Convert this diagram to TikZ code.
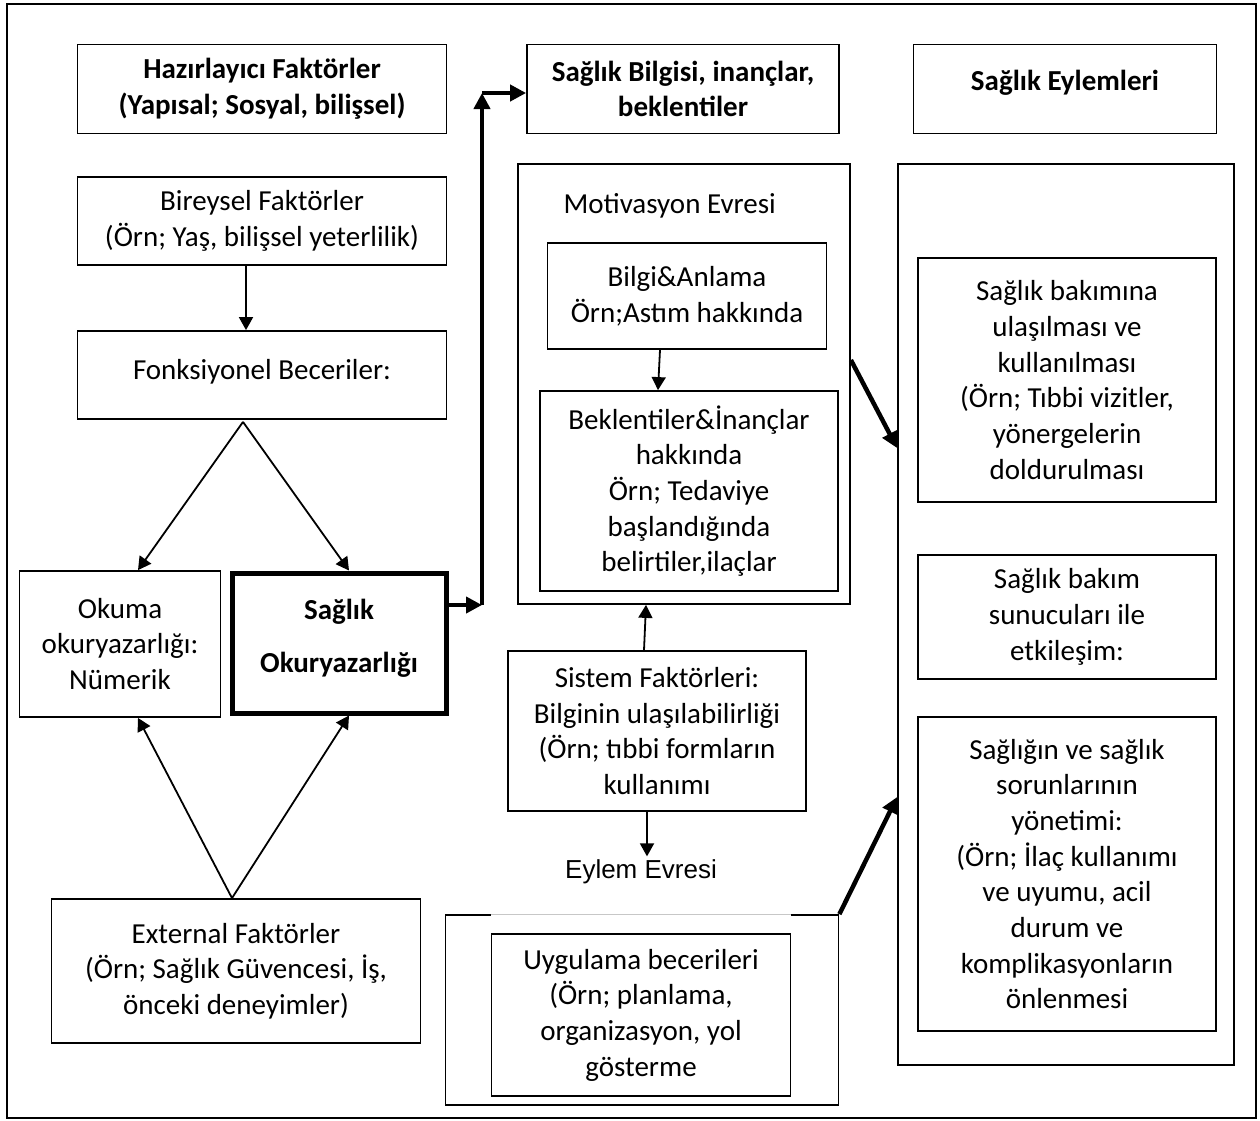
\documentclass[tikz,border=0pt]{standalone}
\usepackage{fontspec}
\setmainfont{Carlito}
\newfontfamily\arialfont{Liberation Sans}
\usetikzlibrary{arrows.meta,calc}

\begin{document}
\begin{tikzpicture}[x=1pt, y=-1pt,
  font=\fontsize{29}{35.7}\selectfont,
  box/.style={draw, line width=1.8pt, align=center, inner sep=0pt},
  headbox/.style={box, font=\fontsize{29}{35.7}\selectfont\bfseries},
  thinarr/.style={line width=1.8pt, -{Triangle[length=13pt,width=14pt]}},
  boldarr/.style={line width=4.5pt, -{Triangle[length=16pt,width=16pt]}}]

\useasboundingbox (0,0) rectangle (1260,1120);
\draw[line width=1.8pt] (7,4) rectangle (1256,1118);

% headings
\node[headbox, minimum width=369pt, minimum height=89pt] (haz) at (262,89) {Hazırlayıcı Faktörler\\(Yapısal; Sosyal, bilişsel)};
\node[headbox, minimum width=312pt, minimum height=89pt] (bilgi) at (683,89) {Sağlık Bilgisi, inançlar,\\beklentiler};
\node[headbox, minimum width=303pt, minimum height=89pt] (eylem) at (1065,89) {Sağlık Eylemleri\\[-18pt]\mbox{}};

% left column
\node[box, minimum width=369pt, minimum height=88pt] (birey) at (262,221) {Bireysel Faktörler\\(Örn; Yaş, bilişsel yeterlilik)};
\node[box, minimum width=369pt, minimum height=88pt] (fonk) at (262,375) {Fonksiyonel Beceriler:\\[-24pt]\mbox{}};
\node[box, minimum width=201pt, minimum height=146pt] (okuma) at (120,644) {Okuma\\okuryazarlığı:\\Nümerik};
\node[headbox, line width=5pt, minimum width=214pt, minimum height=140pt] (saglikok) at (339,643) {Sağlık\\[17pt]Okuryazarlığı\\[-22pt]\mbox{}};
\node[box, minimum width=369pt, minimum height=144pt] (external) at (236,971) {External Faktörler\\(Örn; Sağlık Güvencesi, İş,\\önceki deneyimler)};

% middle column
\node[box, minimum width=332pt, minimum height=440pt] (motiv) at (684,384) {};
\node[anchor=base west] (motivlbl) at (560,213) {Motivasyon Evresi};
\node[box, minimum width=279pt, minimum height=106pt] (bilganl) at (687,296) {Bilgi\&Anlama\\Örn;Astım hakkında};
\node[box, minimum width=298pt, minimum height=200pt] (bekl) at (689,491) {Beklentiler\&İnançlar\\hakkında\\Örn; Tedaviye\\başlandığında\\belirtiler,ilaçlar};
\node[box, minimum width=298pt, minimum height=160pt] (sistem) at (657,731) {Sistem Faktörleri:\\Bilginin ulaşılabilirliği\\(Örn; tıbbi formların\\kullanımı};
\node[font=\arialfont\fontsize{26}{30}\selectfont] (eylemev) at (641,872) {Eylem Evresi};
\node[box, minimum width=393pt, minimum height=190pt] (uygouter) at (642,1010) {};
\node[box, minimum width=299pt, minimum height=162pt] (uyg) at (641,1015) {Uygulama becerileri\\(Örn; planlama,\\organizasyon, yol\\gösterme};
\draw[white, line width=3pt] (uyg.west |- uygouter.north) -- (uyg.east |- uygouter.north);
\draw[black!22, line width=0.8pt] (uyg.west |- uygouter.north) -- (uyg.east |- uygouter.north);

% right column
\node[box, minimum width=336pt, minimum height=901pt] (eyl) at (1066,614.5) {};
\node[box, minimum width=298pt, minimum height=244pt] (r1) at (1067,380) {Sağlık bakımına\\ulaşılması ve\\kullanılması\\(Örn; Tıbbi vizitler,\\yönergelerin\\doldurulması};
\node[box, minimum width=298pt, minimum height=124pt] (r2) at (1067,617) {Sağlık bakım\\sunucuları ile\\etkileşim:};
\node[box, minimum width=298pt, minimum height=314pt] (r3) at (1067,874) {Sağlığın ve sağlık\\sorunlarının\\yönetimi:\\(Örn; İlaç kullanımı\\ve uyumu, acil\\durum ve\\komplikasyonların\\önlenmesi};

% thin arrows
\coordinate (fork) at ($(fonk.south)+(-19,2)$);
\coordinate (join) at ($(external.north)+(-4,0)$);
\coordinate (s1) at ($(sistem.south)+(-10,0)$);
\draw[thinarr] ($(birey.south)+(-16,0)$) -- ($(fonk.north)+(-16,0)$);
\draw[thinarr] (fork) -- ($(okuma.north)+(18,0)$);
\draw[thinarr] (fork) -- ($(saglikok.north)+(10,0)$);
\draw[thinarr] (join) -- ($(okuma.south)+(18,0)$);
\draw[thinarr] (join) -- ($(saglikok.south)+(10,0)$);
\draw[thinarr] ($(bilganl.south)+(-27,0)$) -- ($(bekl.north)+(-31,0)$);
\draw[thinarr] ($(sistem.north)+(-13,0)$) -- ($(motiv.south)+(-38,0)$);
\draw[thinarr] (s1) -- (s1 |- eylemev.north);

% thick arrows
\coordinate (bend1) at (482,605);
\coordinate (bend2) at (482,93);
\draw[boldarr] (saglikok.east |- bend1) -- (bend1);
\draw[boldarr] (bend1) -- (bend2);
\draw[boldarr] (bend2) -- (bilgi.west |- bend2);
\draw[boldarr] ($(motiv.east)+(0,-24)$) -- ($(eyl.west)+(0,-166.5)$);
\draw[boldarr] (uygouter.north east) -- ($(eyl.west)+(0,182.5)$);

\end{tikzpicture}
\end{document}
